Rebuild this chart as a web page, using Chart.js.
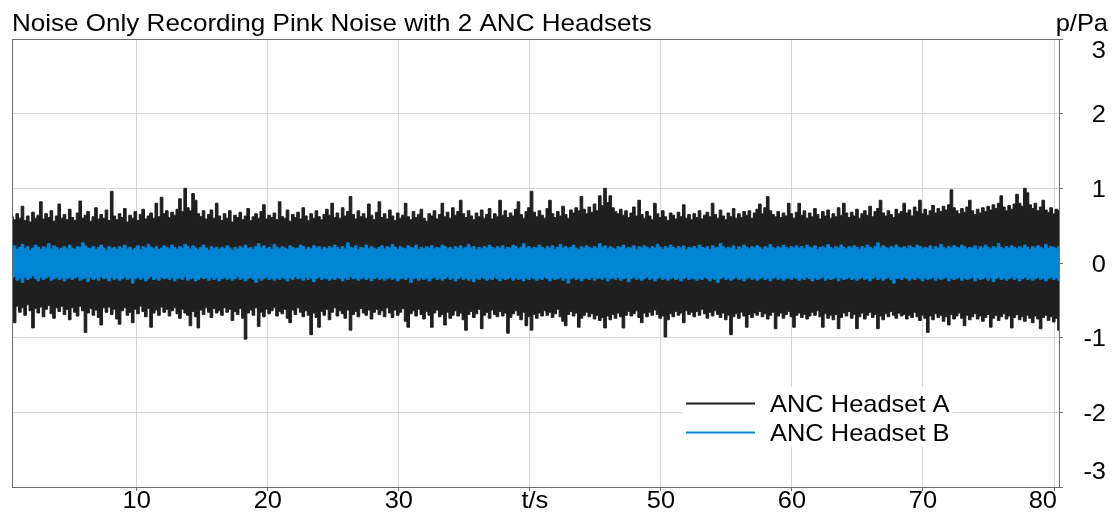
<!DOCTYPE html>
<html>
<head>
<meta charset="utf-8">
<script src="https://cdn.jsdelivr.net/npm/chart.js@4"></script>
<style>
  html, body { margin: 0; padding: 0; background: #ffffff; }
  canvas { display: block; }
</style>
</head>
<body>
<canvas id="c" width="1115" height="512"></canvas>
<script>
// ---- text / labels ----
const chartTitle = 'Noise Only Recording Pink Noise with 2 ANC Headsets';
const yUnitLabel = 'p/Pa';
const seriesNames = ['ANC Headset A', 'ANC Headset B'];
const xTickValues = [10, 20, 30, 40, 50, 60, 70, 80];
const xTickLabels = ['10', '20', '30', 't/s', '50', '60', '70', '80'];
const yTickValues = [-3, -2, -1, 0, 1, 2, 3];
const yTickLabels = ['-3', '-2', '-1', '0', '1', '2', '3'];
const tStart = 0.48;   // s, first time bin shown
const tEnd = 80.38;    // s, last time bin shown

// ---- waveform envelope per time bin (max / min pressure in Pa) ----
const headsetA_max = [
0.62,0.58,0.66,0.6,0.76,0.57,0.63,0.55,0.68,0.6,0.64,0.82,0.59,0.66,0.61,0.7,0.56,0.63,0.79,0.6,
0.65,0.58,0.72,0.61,0.57,0.67,0.83,0.6,0.64,0.69,0.56,0.62,0.74,0.59,0.65,0.6,0.71,0.57,0.96,0.63,
0.58,0.66,0.61,0.73,0.55,0.64,0.6,0.69,0.57,0.65,0.72,0.59,0.63,0.67,0.6,0.8,0.62,0.88,0.66,0.7,
0.61,0.68,0.64,0.72,0.86,0.69,1.0,0.74,0.7,0.93,0.84,0.66,0.62,0.7,0.59,0.65,0.71,0.6,0.8,0.63,
0.57,0.66,0.6,0.7,0.55,0.64,0.61,0.68,0.58,0.63,0.73,0.57,0.62,0.66,0.6,0.69,0.78,0.59,0.64,0.61,
0.67,0.58,0.82,0.62,0.6,0.71,0.56,0.65,0.61,0.68,0.59,0.74,0.63,0.57,0.66,0.6,0.7,0.62,0.58,0.65,
0.72,0.64,0.8,0.61,0.67,0.6,0.74,0.63,0.69,0.89,0.65,0.59,0.7,0.62,0.66,0.6,0.79,0.64,0.58,0.68,
0.82,0.61,0.66,0.59,0.71,0.63,0.57,0.67,0.6,0.64,0.8,0.62,0.58,0.69,0.61,0.65,0.72,0.6,0.56,0.66,
0.63,0.7,0.59,0.65,0.8,0.62,0.68,0.6,0.74,0.64,0.69,0.84,0.66,0.61,0.7,0.63,0.58,0.67,0.62,0.71,
0.6,0.65,0.73,0.59,0.66,0.62,0.84,0.64,0.7,0.61,0.67,0.63,0.72,0.82,0.65,0.6,0.69,0.74,0.96,0.68,
0.62,0.7,0.64,0.6,0.73,0.84,0.66,0.61,0.69,0.63,0.76,0.65,0.6,0.71,0.67,0.74,0.7,0.89,0.72,0.66,
0.75,0.68,0.79,0.7,0.9,0.77,1.0,0.81,0.9,0.74,0.69,0.66,0.72,0.64,0.7,0.61,0.67,0.75,0.63,0.84,
0.65,0.6,0.69,0.63,0.58,0.8,0.66,0.61,0.7,0.62,0.57,0.67,0.64,0.59,0.68,0.62,0.78,0.6,0.65,0.58,
0.66,0.61,0.7,0.59,0.64,0.68,0.62,0.8,0.65,0.6,0.71,0.63,0.58,0.67,0.62,0.73,0.6,0.66,0.61,0.69,
0.64,0.7,0.6,0.67,0.72,0.79,0.66,0.74,0.89,0.7,0.65,0.62,0.69,0.61,0.67,0.63,0.8,0.66,0.6,0.68,
0.8,0.64,0.7,0.6,0.67,0.62,0.73,0.65,0.59,0.69,0.63,0.71,0.6,0.66,0.62,0.74,0.64,0.8,0.67,0.61,
0.68,0.63,0.72,0.6,0.66,0.7,0.64,0.76,0.62,0.69,0.73,0.84,0.67,0.63,0.7,0.65,0.61,0.72,0.66,0.69,
0.8,0.67,0.71,0.63,0.75,0.69,0.84,0.66,0.72,0.64,0.7,0.77,0.67,0.73,0.69,0.76,0.71,0.78,0.98,0.74,
0.7,0.66,0.73,0.68,0.75,0.84,0.7,0.65,0.72,0.67,0.74,0.69,0.76,0.71,0.78,0.73,0.8,0.9,0.75,0.7,
0.77,0.72,0.79,0.92,0.8,0.76,1.0,0.94,0.78,0.73,0.8,0.7,0.75,0.84,0.71,0.68,0.74,0.66,0.72,0.7
];
const headsetA_min = [
-0.63,-0.8,-0.58,-0.66,-0.6,-0.7,-0.56,-0.64,-0.87,-0.61,-0.67,-0.59,-0.72,-0.62,-0.57,-0.68,-0.74,-0.6,-0.65,-0.58,
-0.69,-0.62,-0.76,-0.6,-0.66,-0.71,-0.58,-0.64,-0.93,-0.67,-0.61,-0.7,-0.63,-0.73,-0.83,-0.6,-0.66,-0.59,-0.69,-0.62,
-0.75,-0.82,-0.64,-0.6,-0.7,-0.66,-0.8,-0.62,-0.68,-0.58,-0.65,-0.72,-0.61,-0.86,-0.67,-0.63,-0.7,-0.59,-0.66,-0.62,
-0.71,-0.64,-0.6,-0.68,-0.74,-0.62,-0.67,-0.7,-0.84,-0.65,-0.72,-0.87,-0.63,-0.69,-0.6,-0.66,-0.73,-0.61,-0.67,-0.64,
-0.7,-0.6,-0.66,-0.62,-0.77,-0.65,-0.69,-0.61,-0.74,-1.02,-0.67,-0.63,-0.7,-0.6,-0.85,-0.66,-0.72,-0.62,-0.68,-0.64,
-0.6,-0.71,-0.65,-0.68,-0.62,-0.74,-0.8,-0.63,-0.69,-0.6,-0.66,-0.72,-0.64,-0.7,-0.96,-0.67,-0.73,-0.86,-0.65,-0.7,
-0.62,-0.76,-0.66,-0.6,-0.71,-0.64,-0.68,-0.74,-0.63,-0.9,-0.69,-0.65,-0.72,-0.61,-0.67,-0.7,-0.63,-0.75,-0.66,-0.62,
-0.69,-0.64,-0.72,-0.6,-0.67,-0.73,-0.63,-0.7,-0.66,-0.61,-0.78,-0.86,-0.68,-0.64,-0.71,-0.62,-0.69,-0.75,-0.65,-0.7,
-0.86,-0.67,-0.63,-0.72,-0.69,-0.83,-0.66,-0.74,-0.7,-0.64,-0.71,-0.67,-0.76,-0.9,-0.69,-0.65,-0.73,-0.68,-0.62,-0.88,
-0.7,-0.66,-0.74,-0.63,-0.69,-0.72,-0.65,-0.71,-0.67,-0.94,-0.73,-0.68,-0.64,-0.7,-0.76,-0.66,-0.84,-0.72,-0.9,-0.69,
-0.74,-0.67,-0.71,-0.64,-0.7,-0.66,-0.73,-0.68,-0.62,-0.72,-0.78,-0.84,-0.69,-0.65,-0.71,-0.67,-0.86,-0.74,-0.7,-0.66,
-0.72,-0.68,-0.75,-0.7,-0.77,-0.73,-0.87,-0.71,-0.76,-0.69,-0.74,-0.67,-0.72,-0.87,-0.7,-0.65,-0.71,-0.68,-0.64,-0.73,
-0.8,-0.67,-0.72,-0.66,-0.7,-0.63,-0.69,-0.74,-0.71,-0.99,-0.76,-0.68,-0.72,-0.65,-0.7,-0.67,-0.8,-0.64,-0.69,-0.66,
-0.72,-0.65,-0.7,-0.62,-0.68,-0.74,-0.66,-0.71,-0.64,-0.69,-0.73,-0.67,-0.76,-0.7,-0.96,-0.72,-0.68,-0.74,-0.66,-0.71,
-0.86,-0.69,-0.73,-0.67,-0.7,-0.65,-0.72,-0.68,-0.75,-0.7,-0.66,-0.88,-0.71,-0.67,-0.74,-0.69,-0.65,-0.72,-0.86,-0.7,
-0.67,-0.73,-0.69,-0.75,-0.71,-0.66,-0.7,-0.64,-0.72,-0.86,-0.68,-0.74,-0.7,-0.76,-0.69,-0.88,-0.73,-0.67,-0.71,-0.65,
-0.74,-0.69,-0.88,-0.72,-0.67,-0.75,-0.7,-0.66,-0.73,-0.69,-0.88,-0.71,-0.76,-0.68,-0.72,-0.65,-0.7,-0.74,-0.67,-0.71,
-0.69,-0.75,-0.7,-0.73,-0.66,-0.72,-0.77,-0.7,-0.74,-0.93,-0.71,-0.76,-0.68,-0.73,-0.7,-0.78,-0.72,-0.83,-0.69,-0.75,
-0.71,-0.67,-0.74,-0.84,-0.7,-0.76,-0.72,-0.68,-0.75,-0.71,-0.78,-0.73,-0.69,-0.86,-0.74,-0.7,-0.77,-0.72,-0.68,-0.75,
-0.71,-0.87,-0.73,-0.69,-0.76,-0.72,-0.78,-0.7,-0.74,-0.8,-0.71,-0.75,-0.88,-0.73,-0.7,-0.77,-0.72,-0.79,-0.74,-0.9
];
const headsetB_max = [
0.2,0.23,0.18,0.21,0.25,0.19,0.22,0.17,0.2,0.24,0.21,0.18,0.22,0.2,0.26,0.19,0.23,0.21,0.17,0.2,
0.22,0.19,0.24,0.2,0.18,0.22,0.21,0.27,0.23,0.2,0.19,0.22,0.18,0.21,0.24,0.2,0.17,0.22,0.19,0.21,
0.18,0.22,0.2,0.24,0.19,0.21,0.17,0.2,0.23,0.18,0.22,0.2,0.25,0.21,0.19,0.22,0.18,0.2,0.23,0.21,
0.19,0.24,0.21,0.18,0.22,0.2,0.25,0.22,0.19,0.23,0.2,0.18,0.21,0.24,0.2,0.17,0.22,0.19,0.21,0.18,
0.21,0.19,0.23,0.2,0.17,0.21,0.18,0.22,0.2,0.24,0.19,0.21,0.18,0.22,0.26,0.2,0.23,0.19,0.21,0.18,
0.25,0.21,0.19,0.22,0.2,0.18,0.23,0.21,0.19,0.2,0.24,0.22,0.18,0.21,0.19,0.23,0.2,0.22,0.18,0.21,
0.19,0.22,0.2,0.24,0.21,0.18,0.22,0.19,0.27,0.21,0.2,0.23,0.18,0.21,0.2,0.24,0.19,0.22,0.2,0.18,
0.21,0.23,0.19,0.22,0.2,0.25,0.21,0.18,0.22,0.2,0.19,0.23,0.21,0.2,0.24,0.18,0.21,0.19,0.22,0.2,
0.23,0.19,0.21,0.2,0.24,0.22,0.19,0.21,0.18,0.22,0.2,0.23,0.19,0.21,0.25,0.2,0.22,0.18,0.21,0.19,
0.22,0.2,0.24,0.21,0.19,0.22,0.2,0.23,0.18,0.21,0.2,0.24,0.22,0.19,0.21,0.26,0.2,0.22,0.19,0.21,
0.2,0.24,0.21,0.19,0.22,0.2,0.23,0.18,0.21,0.25,0.2,0.22,0.19,0.21,0.24,0.2,0.18,0.22,0.2,0.23,
0.21,0.19,0.22,0.2,0.26,0.21,0.23,0.19,0.22,0.2,0.18,0.22,0.21,0.24,0.19,0.21,0.2,0.23,0.18,0.22,
0.2,0.23,0.21,0.19,0.22,0.2,0.25,0.21,0.18,0.22,0.2,0.24,0.21,0.19,0.22,0.2,0.23,0.18,0.21,0.2,
0.22,0.19,0.24,0.21,0.2,0.22,0.18,0.23,0.2,0.21,0.26,0.22,0.19,0.21,0.2,0.23,0.18,0.22,0.2,0.24,
0.21,0.19,0.22,0.2,0.23,0.21,0.18,0.22,0.2,0.25,0.21,0.19,0.22,0.2,0.24,0.21,0.19,0.22,0.2,0.23,
0.2,0.22,0.19,0.24,0.21,0.2,0.23,0.18,0.21,0.22,0.2,0.25,0.21,0.19,0.22,0.2,0.24,0.21,0.19,0.22,
0.2,0.23,0.21,0.18,0.22,0.2,0.24,0.21,0.19,0.22,0.27,0.2,0.23,0.21,0.19,0.22,0.2,0.24,0.21,0.2,
0.22,0.19,0.23,0.21,0.2,0.24,0.22,0.19,0.21,0.2,0.23,0.18,0.22,0.2,0.25,0.21,0.19,0.22,0.2,0.23,
0.21,0.2,0.24,0.22,0.19,0.21,0.2,0.23,0.18,0.22,0.2,0.24,0.21,0.19,0.22,0.2,0.26,0.21,0.19,0.22,
0.2,0.23,0.21,0.19,0.22,0.2,0.24,0.21,0.18,0.22,0.2,0.23,0.21,0.19,0.25,0.2,0.22,0.21,0.19,0.22
];
const headsetB_min = [
-0.2,-0.18,-0.23,-0.2,-0.26,-0.19,-0.22,-0.2,-0.17,-0.21,-0.24,-0.19,-0.22,-0.2,-0.18,-0.23,-0.21,-0.19,-0.22,-0.2,
-0.24,-0.21,-0.19,-0.22,-0.2,-0.18,-0.23,-0.21,-0.2,-0.25,-0.19,-0.22,-0.2,-0.23,-0.18,-0.21,-0.2,-0.24,-0.19,-0.22,
-0.2,-0.23,-0.21,-0.19,-0.22,-0.2,-0.27,-0.21,-0.19,-0.22,-0.2,-0.24,-0.21,-0.18,-0.22,-0.2,-0.23,-0.19,-0.21,-0.2,
-0.22,-0.19,-0.24,-0.21,-0.2,-0.22,-0.18,-0.23,-0.21,-0.2,-0.24,-0.22,-0.19,-0.21,-0.2,-0.23,-0.19,-0.22,-0.2,-0.24,
-0.21,-0.19,-0.22,-0.2,-0.23,-0.21,-0.18,-0.22,-0.2,-0.24,-0.21,-0.19,-0.22,-0.26,-0.2,-0.23,-0.21,-0.19,-0.22,-0.2,
-0.23,-0.2,-0.22,-0.19,-0.21,-0.24,-0.2,-0.22,-0.18,-0.21,-0.2,-0.23,-0.19,-0.22,-0.2,-0.25,-0.21,-0.19,-0.22,-0.2,
-0.21,-0.23,-0.2,-0.22,-0.19,-0.21,-0.24,-0.2,-0.22,-0.18,-0.21,-0.2,-0.23,-0.21,-0.19,-0.22,-0.2,-0.24,-0.21,-0.19,
-0.22,-0.2,-0.23,-0.21,-0.19,-0.22,-0.2,-0.24,-0.21,-0.2,-0.22,-0.19,-0.26,-0.21,-0.2,-0.23,-0.19,-0.22,-0.2,-0.24,
-0.21,-0.19,-0.22,-0.2,-0.23,-0.21,-0.18,-0.22,-0.2,-0.24,-0.21,-0.19,-0.22,-0.2,-0.23,-0.21,-0.25,-0.2,-0.22,-0.19,
-0.21,-0.23,-0.2,-0.22,-0.19,-0.21,-0.24,-0.2,-0.22,-0.21,-0.19,-0.23,-0.2,-0.22,-0.21,-0.24,-0.2,-0.22,-0.19,-0.21,
-0.23,-0.2,-0.22,-0.19,-0.21,-0.24,-0.2,-0.22,-0.21,-0.19,-0.23,-0.2,-0.27,-0.21,-0.19,-0.22,-0.2,-0.24,-0.21,-0.2,
-0.22,-0.19,-0.23,-0.21,-0.2,-0.22,-0.19,-0.24,-0.21,-0.2,-0.22,-0.19,-0.23,-0.21,-0.2,-0.25,-0.21,-0.19,-0.22,-0.2,
-0.23,-0.21,-0.19,-0.22,-0.2,-0.24,-0.21,-0.19,-0.22,-0.2,-0.23,-0.21,-0.19,-0.22,-0.2,-0.24,-0.21,-0.19,-0.22,-0.2,
-0.21,-0.23,-0.2,-0.22,-0.19,-0.21,-0.24,-0.2,-0.22,-0.26,-0.21,-0.19,-0.22,-0.2,-0.23,-0.21,-0.19,-0.22,-0.2,-0.24,
-0.21,-0.19,-0.22,-0.2,-0.23,-0.21,-0.19,-0.22,-0.2,-0.24,-0.21,-0.19,-0.22,-0.2,-0.23,-0.21,-0.2,-0.22,-0.19,-0.21,
-0.23,-0.2,-0.22,-0.19,-0.21,-0.24,-0.2,-0.22,-0.21,-0.19,-0.23,-0.2,-0.22,-0.21,-0.19,-0.24,-0.2,-0.22,-0.21,-0.19,
-0.22,-0.2,-0.23,-0.21,-0.19,-0.22,-0.2,-0.24,-0.21,-0.19,-0.22,-0.2,-0.23,-0.21,-0.19,-0.22,-0.27,-0.21,-0.2,-0.22,
-0.19,-0.21,-0.23,-0.2,-0.22,-0.19,-0.21,-0.24,-0.2,-0.22,-0.21,-0.19,-0.23,-0.2,-0.22,-0.21,-0.19,-0.24,-0.2,-0.22,
-0.21,-0.19,-0.23,-0.2,-0.22,-0.21,-0.19,-0.24,-0.2,-0.22,-0.21,-0.19,-0.23,-0.2,-0.25,-0.21,-0.19,-0.22,-0.2,-0.23,
-0.21,-0.19,-0.22,-0.2,-0.24,-0.21,-0.19,-0.22,-0.2,-0.23,-0.21,-0.19,-0.22,-0.2,-0.24,-0.21,-0.19,-0.22,-0.2,-0.23
];

// ---- styling ----
const colorA = '#1f1f1f';
const colorB = 'rgb(0,133,213)';
const FONT = '24px "Liberation Sans", Arial, sans-serif';
const SX = 1.06;
const SX_TITLE = 1.085;

function toPoints(arr) {
  const n = arr.length;
  return arr.map((v, i) => ({ x: tStart + i * (tEnd - tStart) / (n - 1), y: v }));
}

function envelopeDataset(label, arr, color, fill, order) {
  return {
    label: label,
    data: toPoints(arr),
    borderColor: color,
    backgroundColor: color,
    borderWidth: 1,
    pointRadius: 0,
    stepped: 'middle',
    tension: 0,
    fill: fill,
    order: order
  };
}

function drawText(ctx, s, x, y, align, sx) {
  ctx.save();
  ctx.translate(x, y);
  ctx.scale(sx || SX, 1);
  ctx.font = FONT;
  ctx.fillStyle = '#000';
  ctx.textAlign = align;
  ctx.textBaseline = 'alphabetic';
  ctx.fillText(s, 0, 0);
  ctx.restore();
}

const decorPlugin = {
  id: 'decor',
  afterDraw(chart) {
    const ctx = chart.ctx;
    const a = chart.chartArea;
    const xs = chart.scales.x, ys = chart.scales.y;
    // frame
    ctx.save();
    ctx.strokeStyle = '#6e6e6e';
    ctx.lineWidth = 1;
    ctx.strokeRect(a.left + 0.5, a.top + 0.5, a.right - a.left, a.bottom - a.top);
    ctx.restore();
    // title + unit
    drawText(ctx, chartTitle, 12, 31, 'left', SX_TITLE);
    drawText(ctx, yUnitLabel, 1108, 31, 'right');
    // y labels
    yTickValues.forEach((v, i) => {
      let py = ys.getPixelForValue(v);
      if (i === yTickValues.length - 1) py += 10;
      if (i === 0) py -= 17;
      drawText(ctx, yTickLabels[i], 1106, py + 8.6, 'right');
    });
    // x labels
    xTickValues.forEach((v, i) => {
      const px = xs.getPixelForValue(v);
      if (i === xTickValues.length - 1) {
        drawText(ctx, xTickLabels[i], px + 3, 508, 'right');
      } else if (xTickLabels[i] === 't/s') {
        drawText(ctx, xTickLabels[i], px + 5, 508, 'center');
      } else {
        drawText(ctx, xTickLabels[i], px, 508, 'center');
      }
    });
    // legend (inside, lower right)
    ctx.save();
    ctx.fillStyle = '#ffffff';
    ctx.fillRect(682, 387, 271, 60);
    const legendRows = [
      { name: seriesNames[0], color: colorA, y: 403.5 },
      { name: seriesNames[1], color: colorB, y: 432.5 }
    ];
    legendRows.forEach(r => {
      ctx.strokeStyle = r.color;
      ctx.lineWidth = 2;
      ctx.beginPath();
      ctx.moveTo(686, r.y);
      ctx.lineTo(755, r.y);
      ctx.stroke();
      drawText(ctx, r.name, 770, r.y + 8.6, 'left');
    });
    ctx.restore();
  }
};

new Chart(document.getElementById('c'), {
  type: 'line',
  data: {
    datasets: [
      envelopeDataset(seriesNames[0] + ' max', headsetA_max, colorA, '+1', 4),
      envelopeDataset(seriesNames[0] + ' min', headsetA_min, colorA, false, 3),
      envelopeDataset(seriesNames[1] + ' max', headsetB_max, colorB, '+1', 2),
      envelopeDataset(seriesNames[1] + ' min', headsetB_min, colorB, false, 1)
    ]
  },
  options: {
    responsive: false,
    devicePixelRatio: 1,
    animation: false,
    events: [],
    layout: { padding: { top: 39, left: 12, right: 0, bottom: 0 } },
    plugins: {
      legend: { display: false },
      tooltip: { enabled: false },
      title: { display: false }
    },
    scales: {
      x: {
        type: 'linear',
        min: tStart,
        max: tEnd,
        afterBuildTicks: s => { s.ticks = xTickValues.map(v => ({ value: v })); },
        afterFit: s => { s.height = 25; },
        ticks: { display: false },
        border: { display: false },
        grid: { color: '#d6d6d6', lineWidth: 1, drawTicks: true, tickLength: 4, tickColor: '#6e6e6e' }
      },
      y: {
        type: 'linear',
        position: 'right',
        min: -3,
        max: 3,
        afterBuildTicks: s => { s.ticks = yTickValues.map(v => ({ value: v })); },
        afterFit: s => { s.width = 56; },
        ticks: { display: false },
        border: { display: false },
        grid: { color: '#d6d6d6', lineWidth: 1, drawTicks: true, tickLength: 4, tickColor: '#6e6e6e' }
      }
    }
  },
  plugins: [decorPlugin]
});
</script>
</body>
</html>
